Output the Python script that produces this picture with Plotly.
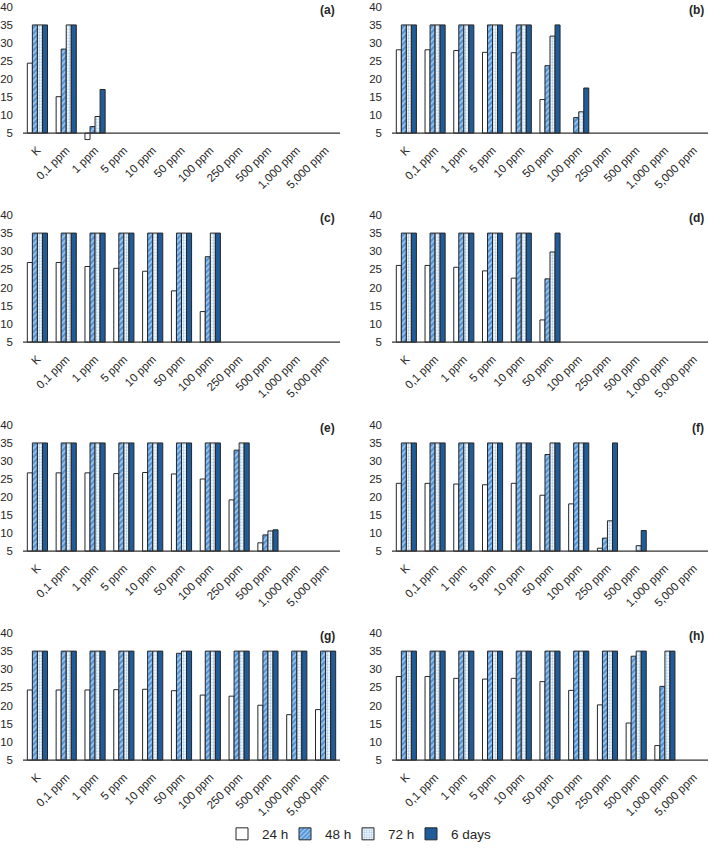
import plotly.graph_objects as go

N = None
CATEGORIES = ["K", "0,1 ppm", "1 ppm", "5 ppm", "10 ppm", "50 ppm", "100 ppm",
              "250 ppm", "500 ppm", "1,000 ppm", "5,000 ppm"]
SERIES = ["24 h", "48 h", "72 h", "6 days"]
Y_TICKS = [5, 10, 15, 20, 25, 30, 35, 40]
PANEL_LABELS = ["(a)", "(b)", "(c)", "(d)", "(e)", "(f)", "(g)", "(h)"]

A_24H = [24.4, 15.1, 3.2, N, N, N, N, N, N, N, N]
A_48H = [35, 28.3, 6.8, N, N, N, N, N, N, N, N]
A_72H = [35, 35, 9.6, N, N, N, N, N, N, N, N]
A_6D = [35, 35, 17.1, N, N, N, N, N, N, N, N]

B_24H = [28.1, 28.1, 27.9, 27.4, 27.3, 14.3, N, N, N, N, N]
B_48H = [35, 35, 35, 35, 35, 23.7, 9.3, N, N, N, N]
B_72H = [35, 35, 35, 35, 35, 31.9, 10.9, N, N, N, N]
B_6D = [35, 35, 35, 35, 35, 35, 17.5, N, N, N, N]

C_24H = [26.9, 26.9, 25.8, 25.3, 24.5, 19.1, 13.4, N, N, N, N]
C_48H = [35, 35, 35, 35, 35, 35, 28.5, N, N, N, N]
C_72H = [35, 35, 35, 35, 35, 35, 35, N, N, N, N]
C_6D = [35, 35, 35, 35, 35, 35, 35, N, N, N, N]

D_24H = [26.1, 26.1, 25.6, 24.6, 22.6, 11.1, N, N, N, N, N]
D_48H = [35, 35, 35, 35, 35, 22.4, N, N, N, N, N]
D_72H = [35, 35, 35, 35, 35, 29.8, N, N, N, N, N]
D_6D = [35, 35, 35, 35, 35, 35, N, N, N, N, N]

E_24H = [26.7, 26.7, 26.7, 26.5, 26.8, 26.4, 25.0, 19.2, 7.3, N, N]
E_48H = [35, 35, 35, 35, 35, 35, 35, 33.0, 9.5, N, N]
E_72H = [35, 35, 35, 35, 35, 35, 35, 35, 10.6, N, N]
E_6D = [35, 35, 35, 35, 35, 35, 35, 35, 10.9, N, N]

F_24H = [23.8, 23.8, 23.6, 23.4, 23.8, 20.5, 18.1, 5.8, N, N, N]
F_48H = [35, 35, 35, 35, 35, 31.8, 35, 8.6, N, N, N]
F_72H = [35, 35, 35, 35, 35, 35, 35, 13.4, 6.5, N, N]
F_6D = [35, 35, 35, 35, 35, 35, 35, 35, 10.7, N, N]

G_24H = [24.3, 24.3, 24.3, 24.4, 24.5, 24.1, 22.9, 22.6, 20.1, 17.5, 18.9]
G_48H = [35, 35, 35, 35, 35, 34.4, 35, 35, 35, 35, 35]
G_72H = [35, 35, 35, 35, 35, 35, 35, 35, 35, 35, 35]
G_6D = [35, 35, 35, 35, 35, 35, 35, 35, 35, 35, 35]

H_24H = [28.0, 28.0, 27.5, 27.3, 27.5, 26.6, 24.2, 20.2, 15.2, 9.0, N]
H_48H = [35, 35, 35, 35, 35, 35, 35, 35, 33.6, 25.3, N]
H_72H = [35, 35, 35, 35, 35, 35, 35, 35, 35, 35, N]
H_6D = [35, 35, 35, 35, 35, 35, 35, 35, 35, 35, N]

PANELS = [
    [A_24H, A_48H, A_72H, A_6D],
    [B_24H, B_48H, B_72H, B_6D],
    [C_24H, C_48H, C_72H, C_6D],
    [D_24H, D_48H, D_72H, D_6D],
    [E_24H, E_48H, E_72H, E_6D],
    [F_24H, F_48H, F_72H, F_6D],
    [G_24H, G_48H, G_72H, G_6D],
    [H_24H, H_48H, H_72H, H_6D],
]

W, H = 709, 850
BASE = 5
Y_MIN, Y_MAX = 3, 40
# pixel rows: (y of 40, y of 5)
ROWS_PX = [(7, 135), (218, 347), (431, 559), (642, 771)]
COLS_PX = [(23, 340), (392, 708)]
LABEL_X_PX = [337, 706]

OUTLINE = "#262626"
markers = [
    dict(color="white", line=dict(color=OUTLINE, width=1)),
    dict(color="#4F93D8", line=dict(color=OUTLINE, width=1),
         pattern=dict(shape="/", bgcolor="#4F93D8", fgcolor="white", size=4, solidity=0.4)),
    dict(color="#EAF2FA", line=dict(color=OUTLINE, width=1),
         pattern=dict(shape=".", bgcolor="#FAFCFE", fgcolor="#5B9BD5", size=3, solidity=0.45)),
    dict(color="#1F5C99", line=dict(color=OUTLINE, width=1)),
]
LEGEND_WIDTHS = [18, 18, 18, 48]

fig = go.Figure()
layout = dict(
    width=W, height=H, margin=dict(l=0, r=0, t=0, b=0),
    paper_bgcolor="white", plot_bgcolor="white",
    barmode="group", bargap=0.3, bargroupgap=0.0,
    font=dict(family="Liberation Sans, Arial, sans-serif", color="#262626", size=12),
    showlegend=True,
    legend=dict(orientation="h", x=222 / W, xanchor="left", y=(H - 846) / H, yanchor="middle",
                font=dict(size=13.5, color="#262626"), itemwidth=30, traceorder="normal",
                entrywidthmode="pixels",
                bgcolor="rgba(0,0,0,0)"),
)
shapes = []
annotations = []

for p, series in enumerate(PANELS):
    r, c = divmod(p, 2)
    idx = p + 1
    xa = "x" if idx == 1 else f"x{idx}"
    ya = "y" if idx == 1 else f"y{idx}"
    t40, b5 = ROWS_PX[r]
    unit = (b5 - t40) / (Y_MAX - BASE)
    bottom_px = b5 + (BASE - Y_MIN) * unit
    x0, x1 = COLS_PX[c]
    for s, vals in enumerate(series):
        fig.add_trace(go.Bar(
            x=CATEGORIES,
            y=[(v - BASE) if v is not None else None for v in vals],
            base=BASE,
            name=SERIES[s],
            legendgroup=SERIES[s],
            showlegend=(p == 0),
            legendwidth=LEGEND_WIDTHS[s],
            marker=markers[s],
            xaxis=xa, yaxis=ya,
            hovertemplate="%{x}: %{customdata}<extra>" + SERIES[s] + "</extra>",
            customdata=vals,
        ))
    layout["xaxis" if idx == 1 else f"xaxis{idx}"] = dict(
        domain=[x0 / W, x1 / W], anchor=ya, type="category",
        categoryorder="array", categoryarray=CATEGORIES, range=[-0.5, len(CATEGORIES) - 0.5],
        tickangle=-45, showline=False, showgrid=False, zeroline=False, ticks="",
        tickfont=dict(size=11.5, color="#262626"), automargin=False,
    )
    layout["yaxis" if idx == 1 else f"yaxis{idx}"] = dict(
        domain=[1 - bottom_px / H, 1 - t40 / H], anchor=xa,
        range=[Y_MIN, Y_MAX], tickvals=Y_TICKS, showgrid=False, zeroline=False,
        showline=False, ticks="", ticklabelstandoff=9,
        tickfont=dict(size=11.5, color="#262626"), automargin=False,
    )
    shapes.append(dict(type="line", xref=f"{xa} domain", yref=ya, x0=0, x1=1,
                       y0=BASE, y1=BASE, line=dict(color="#333333", width=1.3)))
    annotations.append(dict(text=f"<b>{PANEL_LABELS[p]}</b>", xref="paper", yref="paper",
                            x=LABEL_X_PX[c] / W, y=1 - (t40 + 3.5) / H,
                            xanchor="right", yanchor="middle", showarrow=False,
                            font=dict(size=12, color="#262626")))

layout["shapes"] = shapes
layout["annotations"] = annotations
fig.update_layout(**layout)
fig.write_html(
    "out.html",
    config={"displayModeBar": False},
    post_script="document.body.style.margin='0';document.body.style.overflow='hidden';",
)
